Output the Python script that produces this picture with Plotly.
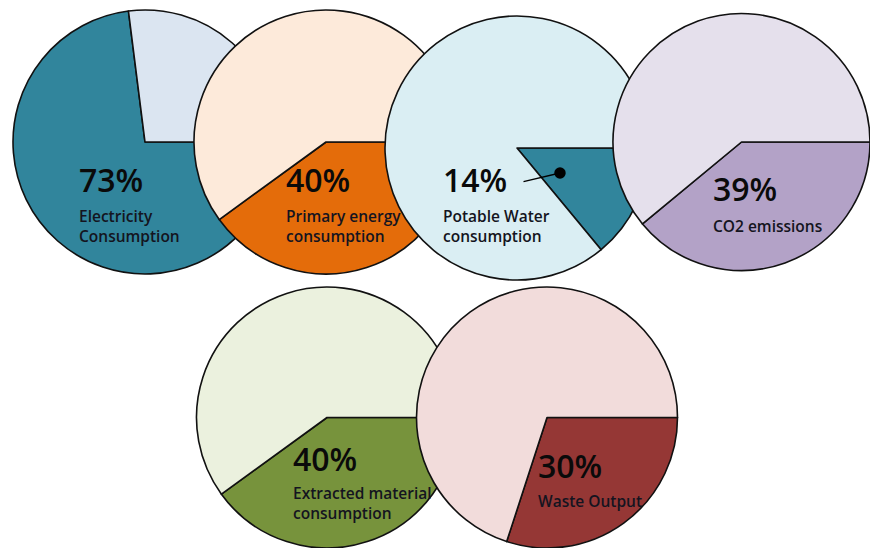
import plotly.graph_objects as go

# ---- data ----
shares = [73, 40, 14, 39, 40, 30]
labels = ["Electricity<br>Consumption", "Primary energy<br>consumption",
          "Potable Water<br>consumption", "CO2 emissions",
          "Extracted material<br>consumption", "Waste Output"]
dark_colors = ["#31859C", "#E46C0A", "#31859C", "#B3A2C7", "#77933C", "#953735"]
light_colors = ["#DBE5F1", "#FDEADA", "#DAEEF3", "#E5E0EC", "#EBF1DE", "#F2DCDB"]

W, H = 870, 548

# pie boxes in pixels: (left, right, top, bottom)
boxes = [(13, 277, 10, 274), (194, 458, 10, 274), (385, 649, 16, 280),
         (613, 870, 10, 274), (195, 459, 287, 548), (415, 679, 287, 548)]

# label anchor positions (px): percent (x, y-center), sublabel (y-top)
text_pos = [(77, 180, 203), (284, 180, 203), (441, 180, 203),
            (711, 188, 213), (291, 458, 480), (536, 465, 488)]

fig = go.Figure()
for i, p in enumerate(shares):
    l, r, t, b = boxes[i]
    fig.add_trace(go.Pie(
        values=[p, 100 - p],
        labels=["share", "rest"],
        sort=False,
        direction="clockwise",
        rotation=90,
        textinfo="none",
        hoverinfo="skip",
        marker=dict(colors=[dark_colors[i], light_colors[i]],
                    line=dict(color="#111111", width=1.6)),
        domain=dict(x=[l / W, r / W], y=[1 - b / H, 1 - t / H]),
        showlegend=False,
    ))

annotations = []
for i, p in enumerate(shares):
    x, yc, yl = text_pos[i]
    annotations.append(dict(
        text=f"{p}%", x=x / W, y=1 - yc / H, xref="paper", yref="paper",
        xanchor="left", yanchor="middle", showarrow=False,
        font=dict(family="Open Sans", size=32, color="#0a0a0a", weight=600)))
    annotations.append(dict(
        text=labels[i], x=x / W, y=1 - yl / H, xref="paper", yref="paper",
        xanchor="left", yanchor="top", align="left", showarrow=False,
        font=dict(family="Open Sans", size=15.5, color="#141420", weight=600)))

# leader line with dot for the small slice
annotations.append(dict(
    text="", x=560 / W, y=1 - 173 / H, xref="paper", yref="paper",
    showarrow=True, ax=-38, ay=9, arrowhead=6, arrowsize=2.2,
    arrowwidth=1.3, arrowcolor="#000000", standoff=0))

fig.update_layout(
    width=W, height=H,
    margin=dict(l=0, r=0, t=0, b=0),
    paper_bgcolor="white", plot_bgcolor="white",
    annotations=annotations,
)

fig.write_html("out.html")
